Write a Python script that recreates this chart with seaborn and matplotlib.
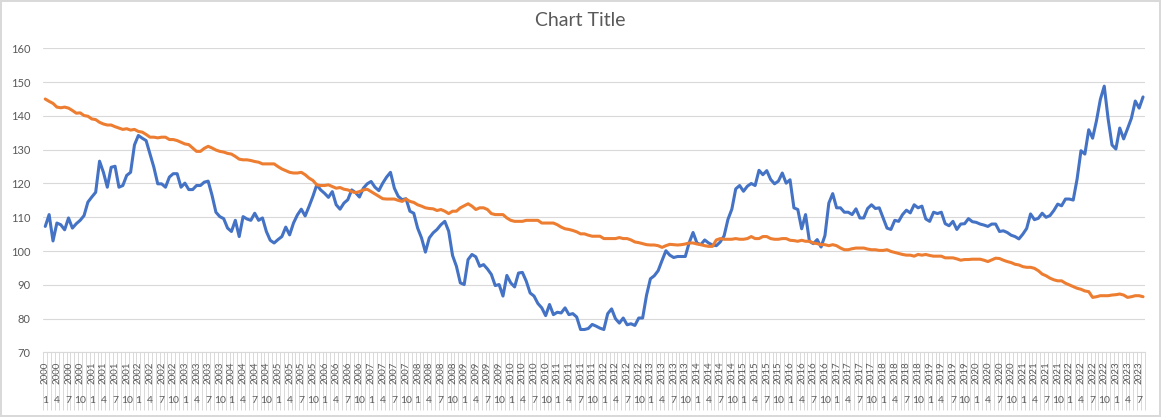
import matplotlib
matplotlib.use('Agg')
import numpy as np
import pandas as pd
import matplotlib.pyplot as plt
import seaborn as sns

# monthly values, Jan 2000 .. Aug 2023
blue_values = [
    107.3, 110.8, 103.0, 108.3, 107.8, 106.3, 109.8, 106.8, 108.1, 109.1, 110.5, 114.5,  # 2000
    116.0, 117.4, 126.6, 123.3, 118.9, 124.8, 125.1, 118.9, 119.4, 122.4, 123.3, 131.4,  # 2001
    134.2, 133.4, 132.7, 128.8, 124.8, 119.9, 119.9, 118.9, 121.9, 122.9, 122.9, 118.9,  # 2002
    120.1, 118.2, 118.2, 119.4, 119.4, 120.4, 120.7, 116.5, 111.5, 110.2, 109.6, 106.8,  # 2003
    105.8, 109.1, 104.3, 110.2, 109.5, 109.1, 111.2, 109.1, 109.8, 105.8, 103.2, 102.4,  # 2004
    103.4, 104.3, 107.1, 104.8, 108.3, 110.7, 112.4, 110.4, 113.2, 116.2, 119.6, 118.1,  # 2005
    117.1, 115.9, 117.6, 113.7, 112.4, 114.2, 115.2, 118.1, 117.3, 116.0, 118.6, 119.9,  # 2006
    120.6, 118.9, 117.9, 120.1, 121.9, 123.3, 118.6, 116.2, 115.2, 115.5, 111.8, 111.2,  # 2007
    106.8, 103.9, 99.7, 103.9, 105.4, 106.4, 107.8, 108.8, 105.9, 98.7, 95.5, 90.6,      # 2008
    90.1, 97.5, 99.0, 98.3, 95.5, 96.0, 94.7, 93.1, 89.8, 90.1, 86.7, 92.8,              # 2009
    90.6, 89.4, 93.5, 93.7, 91.1, 87.6, 86.7, 84.5, 83.2, 80.9, 84.2, 81.2,              # 2010
    81.9, 81.7, 83.2, 81.2, 81.5, 80.5, 76.8, 76.8, 77.1, 78.3, 77.8, 77.2,              # 2011
    76.8, 81.5, 82.9, 80.0, 78.7, 80.2, 78.2, 78.5, 78.0, 80.2, 80.2, 86.9,              # 2012
    91.8, 92.7, 94.2, 97.2, 100.1, 98.8, 98.1, 98.4, 98.4, 98.4, 102.5, 105.5,           # 2013
    102.4, 101.9, 103.3, 102.4, 101.8, 101.6, 102.7, 104.5, 109.4, 112.4, 118.4, 119.4,  # 2014
    117.7, 119.2, 120.0, 119.4, 123.9, 122.6, 123.8, 121.2, 119.9, 120.7, 123.1, 120.1,  # 2015
    121.1, 112.8, 112.3, 106.6, 110.8, 102.9, 102.2, 103.4, 101.2, 104.6, 114.2, 117.0,  # 2016
    112.8, 112.8, 111.5, 111.5, 110.8, 112.5, 109.8, 109.8, 112.6, 113.7, 112.6, 112.8,  # 2017
    109.8, 106.8, 106.4, 109.1, 108.8, 110.8, 112.1, 111.3, 113.7, 112.8, 113.3, 109.5,  # 2018
    108.8, 111.5, 111.1, 111.5, 108.1, 107.5, 108.8, 106.4, 108.0, 108.1, 109.6, 108.7,  # 2019
    108.5, 108.0, 107.7, 107.3, 108.0, 108.0, 105.8, 106.0, 105.5, 104.7, 104.3, 103.6,  # 2020
    105.0, 106.7, 111.0, 109.3, 109.7, 111.2, 110.0, 110.5, 112.0, 113.9, 113.4, 115.4,  # 2021
    115.4, 115.1, 121.3, 129.7, 128.7, 135.9, 133.4, 138.6, 144.9, 148.8, 139.1, 131.4,  # 2022
    130.2, 136.4, 133.2, 136.2, 139.3, 144.4, 142.3, 145.6,                              # 2023
]

orange_values = [
    145.0, 144.3, 143.7, 142.6, 142.4, 142.6, 142.3, 141.6, 140.8, 140.9, 140.1, 139.9,  # 2000
    139.1, 138.9, 138.1, 137.6, 137.3, 137.3, 136.8, 136.4, 136.0, 136.2, 135.8, 136.0,  # 2001
    135.4, 135.2, 134.5, 133.7, 133.7, 133.5, 133.7, 133.7, 133.0, 133.0, 132.7, 132.2,  # 2002
    131.7, 131.5, 130.5, 129.5, 129.5, 130.4, 131.0, 130.5, 129.9, 129.5, 129.3, 128.9,  # 2003
    128.7, 128.0, 127.2, 127.0, 127.0, 126.8, 126.5, 126.3, 125.8, 125.8, 125.8, 125.8,  # 2004
    125.0, 124.3, 123.8, 123.3, 123.1, 123.1, 123.3, 122.6, 121.6, 120.9, 119.6, 119.4,  # 2005
    119.4, 119.6, 119.1, 118.6, 118.8, 118.3, 118.1, 117.6, 117.3, 117.6, 118.1, 118.3,  # 2006
    117.6, 116.9, 116.2, 115.5, 115.4, 115.4, 115.4, 115.0, 114.7, 115.4, 114.7, 114.4,  # 2007
    113.7, 113.3, 112.8, 112.6, 112.5, 112.0, 112.3, 111.8, 111.1, 111.8, 111.8, 112.8,  # 2008
    113.4, 114.0, 113.3, 112.3, 112.8, 112.8, 112.3, 111.1, 110.8, 110.8, 110.8, 109.8,  # 2009
    109.1, 108.8, 108.8, 108.8, 109.1, 109.1, 109.1, 109.1, 108.3, 108.3, 108.3, 108.3,  # 2010
    107.8, 107.1, 106.6, 106.4, 106.1, 105.7, 105.1, 105.1, 104.7, 104.4, 104.4, 104.4,  # 2011
    103.7, 103.7, 103.7, 103.7, 104.0, 103.7, 103.7, 103.3, 102.7, 102.5, 102.2, 101.9,  # 2012
    101.8, 101.8, 101.6, 101.1, 101.6, 102.0, 101.9, 101.8, 101.9, 102.1, 102.4, 102.4,  # 2013
    102.1, 101.9, 101.6, 101.4, 101.4, 103.3, 103.7, 103.5, 103.5, 103.5, 103.7, 103.5,  # 2014
    103.5, 103.7, 104.3, 103.7, 103.7, 104.3, 104.3, 103.7, 103.5, 103.5, 103.7, 103.7,  # 2015
    103.2, 103.1, 102.9, 103.2, 102.9, 102.9, 102.4, 102.2, 101.9, 101.9, 101.6, 101.9,  # 2016
    101.6, 100.9, 100.4, 100.4, 100.7, 100.9, 100.9, 100.9, 100.6, 100.4, 100.4, 100.2,  # 2017
    100.2, 100.4, 99.9, 99.6, 99.3, 99.0, 98.8, 98.8, 98.5, 99.0, 98.8, 99.0,            # 2018
    98.7, 98.5, 98.5, 98.5, 98.0, 98.0, 98.0, 97.7, 97.3, 97.5, 97.5, 97.6,              # 2019
    97.6, 97.6, 97.3, 96.9, 97.4, 97.9, 97.8, 97.3, 96.9, 96.6, 96.1, 95.9,              # 2020
    95.4, 95.2, 95.2, 94.9, 94.2, 93.2, 92.7, 92.0, 91.5, 91.2, 91.2, 90.5,              # 2021
    90.0, 89.5, 89.0, 88.7, 88.2, 88.0, 86.3, 86.5, 86.8, 86.8, 86.8, 87.0,              # 2022
    87.1, 87.3, 87.0, 86.3, 86.5, 86.8, 86.8, 86.5,                                      # 2023
]

start_year = 2000
n = len(blue_values)
years = [start_year + i // 12 for i in range(n)]
months = [i % 12 + 1 for i in range(n)]
y_ticks = [70, 80, 90, 100, 110, 120, 130, 140, 150, 160]

df = pd.DataFrame({'idx': range(n), 'Series1': blue_values, 'Series2': orange_values})
long_df = df.melt(id_vars='idx', var_name='series', value_name='value')

sns.set_style('white')
plt.rcParams['font.family'] = ['Lato', 'DejaVu Sans']

text_color = '#595959'
grid_color = '#d9d9d9'

fig = plt.figure(figsize=(11.61, 4.17), dpi=100)
ax = fig.add_axes([0.0373, 0.1547, 0.9489, 0.7295])

sns.lineplot(data=long_df, x='idx', y='value', hue='series',
             hue_order=['Series1', 'Series2'],
             palette={'Series1': '#4472C4', 'Series2': '#ED7D31'},
             linewidth=2.2, legend=False, ax=ax)

ax.set_xlim(-0.5, n - 0.5)
ax.set_ylim(70, 160)
ax.set_yticks(y_ticks)
ax.set_yticklabels([str(v) for v in y_ticks])
ax.tick_params(axis='y', length=0, pad=9, labelsize=8, labelcolor=text_color)
ax.set_xticks([])
ax.set_xlabel('')
ax.set_ylabel('')
ax.grid(axis='y', color=grid_color, linewidth=0.8)
ax.set_axisbelow(True)
for side in ['top', 'right', 'left']:
    ax.spines[side].set_visible(False)
ax.spines['bottom'].set_color(grid_color)

# category dividers under the axis
xt = ax.get_xaxis_transform()
ax.vlines(np.arange(n + 1) - 0.5, -0.189, 0, transform=xt,
          colors=grid_color, linewidth=0.7, clip_on=False)

# year / month labels every quarter
for i in range(0, n, 3):
    ax.text(i, -0.066, str(years[i]), rotation=90, ha='center', va='center',
            transform=xt, fontsize=7, color=text_color)
    ax.text(i, -0.157, str(months[i]), ha='center', va='center',
            transform=xt, fontsize=7.5, color=text_color)

fig.text(0.5, 1 - 21 / 417, 'Chart Title', ha='center', va='center',
         fontsize=14, color=text_color)

fig.patch.set_edgecolor(grid_color)
fig.patch.set_linewidth(1.5)
fig.savefig('out.png', dpi=100, facecolor='white', edgecolor=grid_color)
